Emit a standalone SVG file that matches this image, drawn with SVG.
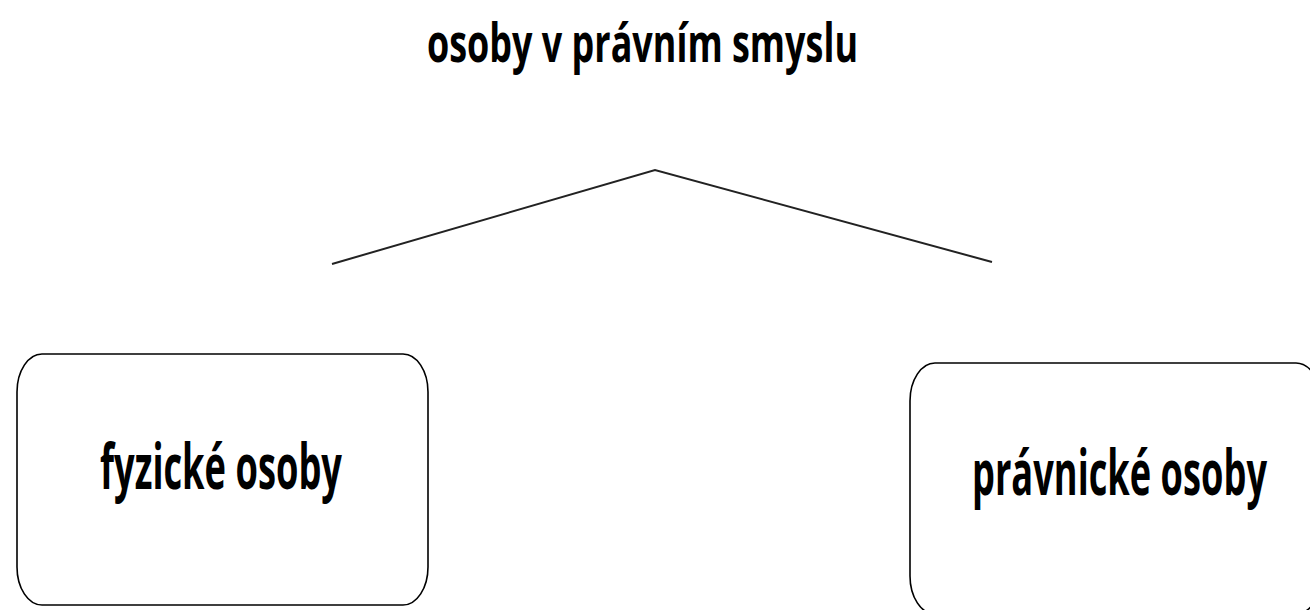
<svg xmlns="http://www.w3.org/2000/svg" width="1310" height="610" viewBox="0 0 1310 610">
<style>
.box{fill:#fff;stroke:#000;stroke-width:1.6}
.lbl{font-family:"Open Sans","Liberation Sans",sans-serif;font-weight:bold;fill:#000}
.conn{fill:none;stroke:#222;stroke-width:2}
</style>
<rect width="1310" height="610" fill="#fff"/>
<g id="title">
<text class="lbl" x="427" y="62" font-size="54" textLength="431" lengthAdjust="spacingAndGlyphs">osoby v právním smyslu</text>
</g>
<g id="connectors">
<polyline class="conn" points="332,264 655,170 992,262"/>
</g>
<g id="fyzicke">
<rect class="box" x="17" y="354" width="411" height="251" rx="25" ry="38"/>
<text class="lbl" x="100" y="489" font-size="62" textLength="242" lengthAdjust="spacingAndGlyphs">fyzické osoby</text>
</g>
<g id="pravnicke">
<rect class="box" x="910" y="363" width="411" height="251" rx="25" ry="38"/>
<text class="lbl" x="972" y="495" font-size="62" textLength="295" lengthAdjust="spacingAndGlyphs">právnické osoby</text>
</g>
</svg>
